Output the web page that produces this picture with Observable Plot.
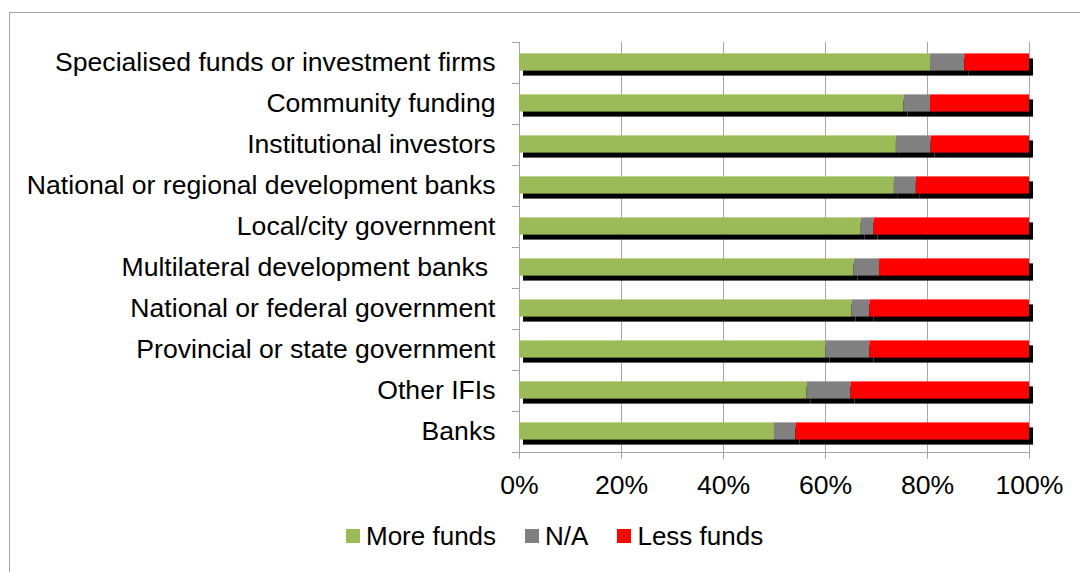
<!DOCTYPE html>
<html>
<head>
<meta charset="utf-8">
<script src="https://cdn.jsdelivr.net/npm/d3@7"></script>
<script src="https://cdn.jsdelivr.net/npm/@observablehq/plot@0.6"></script>
<style>
  body { margin: 0; background: #fff; font-family: "Liberation Sans", Arial, sans-serif; }
  #wrap { position: relative; width: 1080px; height: 572px; overflow: hidden; background: #fff; }
  #frame { position: absolute; left: 9px; top: 12px; width: 1200px; height: 700px;
           border-left: 1px solid #a6a6a6; border-top: 1px solid #a6a6a6; box-sizing: border-box; }
  #chart { position: absolute; left: 0; top: 0; }
  #legend { position: absolute; left: 346px; top: 521px; display: flex; align-items: center;
            font-size: 26px; line-height: 30px; color: #000; white-space: nowrap; }
  .item { display: flex; align-items: center; margin-right: 29px; }
  .sw { width: 14px; height: 14px; margin-right: 6px; }
</style>
</head>
<body>
<div id="wrap">
  <div id="frame"></div>
  <div id="chart"></div>
  <div id="legend"></div>
</div>
<script>
const categories = [
  "Specialised funds or investment firms",
  "Community funding",
  "Institutional investors",
  "National or regional development banks",
  "Local/city government",
  "Multilateral development banks ",
  "National or federal government",
  "Provincial or state government",
  "Other IFIs",
  "Banks"
];
const seriesNames = ["More funds", "N/A", "Less funds"];
const seriesColors = ["#9bbb59", "#808080", "#ff0000"];
const moreFunds = [80.6, 75.4, 73.9, 73.5, 67.0, 65.6, 65.2, 60.1, 56.4, 50.0];
const naValues  = [6.7, 5.2, 6.8, 4.3, 2.5, 5.0, 3.5, 8.6, 8.6, 4.2];
const lessFunds = [12.7, 19.4, 19.3, 22.2, 30.5, 29.4, 31.3, 31.3, 35.0, 45.8];
const xTicks = [0, 20, 40, 60, 80, 100];

const seriesValues = [moreFunds, naValues, lessFunds];
const data = [];
categories.forEach((c, i) => {
  seriesNames.forEach((s, j) => data.push({category: c, series: s, value: seriesValues[j][i]}));
});

const W = 1080, H = 500, mT = 42, mB = 48, mL = 519, mR = 51;
const step = (H - mT - mB) / categories.length;
const barH = 17.2;
const insetTop = (step - barH) / 2 - 0.5;
const insetBottom = step - barH - insetTop;
const gray = "#a6a6a6";
const fs = 26.6;

const chart = Plot.plot({
  width: W,
  height: H,
  marginTop: mT,
  marginBottom: mB,
  marginLeft: mL,
  marginRight: mR,
  style: {fontFamily: "'Liberation Sans', Arial, sans-serif", fontSize: fs + "px", background: "transparent", color: "#000"},
  x: {domain: [0, 100], label: null},
  y: {domain: categories, padding: 0, label: null},
  color: {domain: seriesNames, range: seriesColors},
  marks: [
    Plot.gridX(xTicks, {stroke: gray, strokeOpacity: 1}),
    Plot.ruleX([0], {stroke: gray}),
    Plot.frame({anchor: "bottom", stroke: gray}),
    Plot.axisX({ticks: xTicks, tickSize: 7, tickPadding: 16, tickFormat: d => d + "%",
                stroke: gray, fill: "#000", fontSize: fs, label: null}),
    Plot.axisY({tickSize: 7, tickFormat: () => "", dy: -step / 2, stroke: gray, label: null}),
    Plot.axisY({ticks: [categories[categories.length - 1]], tickSize: 7, tickFormat: () => "",
                dy: step / 2, stroke: gray, label: null}),
    Plot.axisY({tickSize: 0, tickPadding: 24, fill: "#000", fontSize: fs, label: null, dy: -1}),
    Plot.barX(data, Plot.stackX({x: "value", y: "category", fill: "#000", dx: 4, dy: 5,
                                 insetTop, insetBottom})),
    Plot.barX(data, Plot.stackX({x: "value", y: "category", fill: "series",
                                 insetTop, insetBottom}))
  ]
});
document.getElementById("chart").appendChild(chart);

const legend = document.getElementById("legend");
seriesNames.forEach((s, i) => {
  const item = document.createElement("div");
  item.className = "item";
  const sw = document.createElement("div");
  sw.className = "sw";
  sw.style.background = seriesColors[i];
  const t = document.createElement("span");
  t.textContent = s;
  item.appendChild(sw);
  item.appendChild(t);
  legend.appendChild(item);
});
</script>
</body>
</html>
